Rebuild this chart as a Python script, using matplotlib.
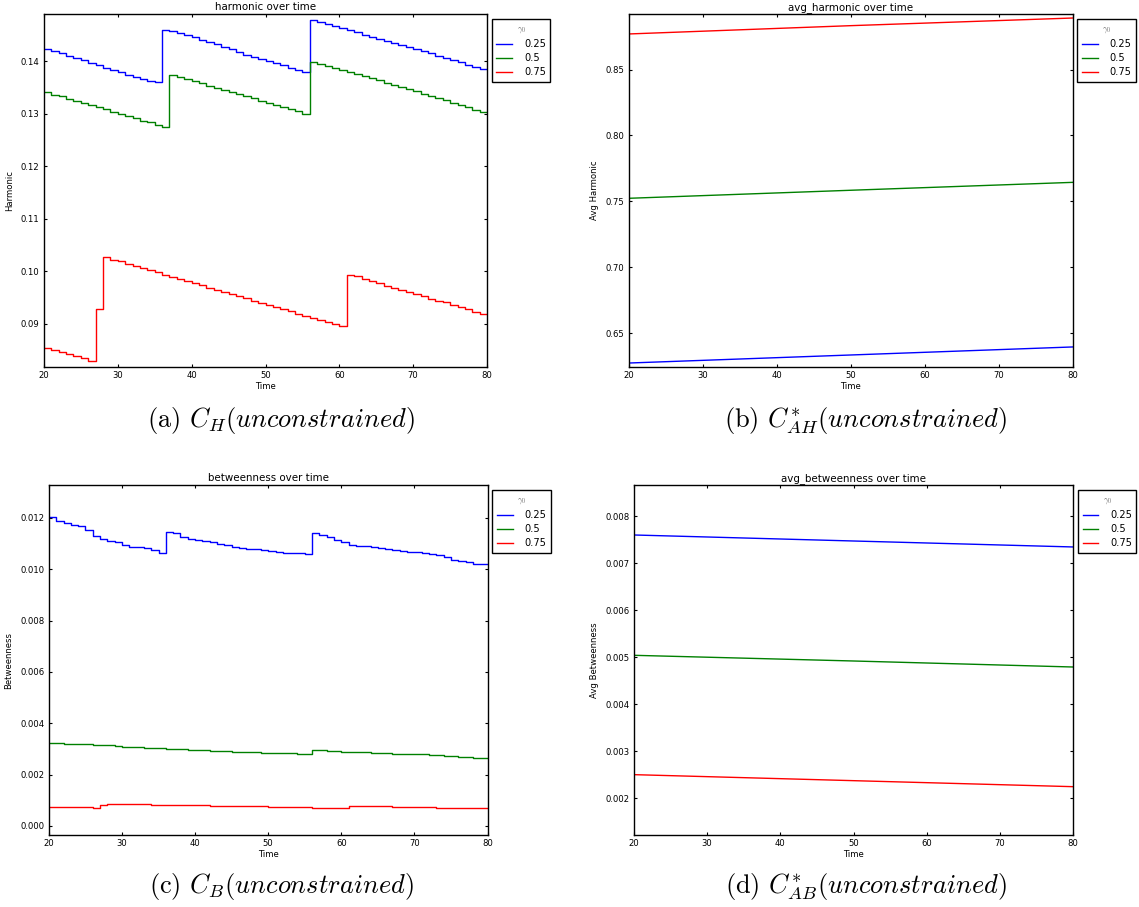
import matplotlib
matplotlib.use('Agg')
import matplotlib.pyplot as plt
from matplotlib.ticker import FormatStrFormatter, MultipleLocator

# ---------------- data ----------------
time = list(range(20, 81))
gamma_labels = ['0.25', '0.5', '0.75']
line_colors = ['#0000ff', '#008000', '#ff0000']

harmonic_025 = [0.14242, 0.14197, 0.14153, 0.14108, 0.14064, 0.14019, 0.13968, 0.13924,
                0.13879, 0.13841, 0.13790, 0.13745, 0.13701, 0.13656, 0.13624, 0.13599,
                0.14605, 0.14573, 0.14535, 0.14497, 0.14459, 0.14414, 0.14369, 0.14325,
                0.14280, 0.14236, 0.14185, 0.14127, 0.14083, 0.14045, 0.14006, 0.13962,
                0.13924, 0.13879, 0.13841, 0.13796,
                0.14790, 0.14758, 0.14720, 0.14675, 0.14637, 0.14592, 0.14554, 0.14510,
                0.14471, 0.14427, 0.14389, 0.14350, 0.14306, 0.14268, 0.14229, 0.14191,
                0.14153, 0.14108, 0.14070, 0.14025, 0.13981, 0.13936, 0.13892, 0.13854,
                0.13850]
harmonic_05 = [0.13414, 0.13369, 0.13338, 0.13293, 0.13255, 0.13217, 0.13172, 0.13127,
               0.13089, 0.13045, 0.13006, 0.12962, 0.12917, 0.12873, 0.12841, 0.12796,
               0.12752,
               0.13745, 0.13707, 0.13662, 0.13624, 0.13586, 0.13541, 0.13503, 0.13459,
               0.13420, 0.13382, 0.13338, 0.13299, 0.13255, 0.13217, 0.13178, 0.13134,
               0.13096, 0.13051, 0.13006,
               0.13994, 0.13955, 0.13911, 0.13873, 0.13834, 0.13796, 0.13752, 0.13713,
               0.13675, 0.13637, 0.13592, 0.13548, 0.13510, 0.13471, 0.13433, 0.13389,
               0.13350, 0.13306, 0.13261, 0.13210, 0.13166, 0.13127, 0.13083, 0.13045,
               0.13045]
harmonic_075 = [0.08547, 0.08509, 0.08459, 0.08421, 0.08384, 0.08340, 0.08296, 0.09277,
                0.10270, 0.10226, 0.10189, 0.10145, 0.10107, 0.10063, 0.10019, 0.09981,
                0.09937, 0.09899, 0.09855, 0.09818, 0.09774, 0.09736, 0.09692, 0.09648,
                0.09610, 0.09566, 0.09528, 0.09484, 0.09440, 0.09403, 0.09358, 0.09321,
                0.09277, 0.09239, 0.09195, 0.09157, 0.09113, 0.09075, 0.09038, 0.08994,
                0.08956,
                0.09937, 0.09906, 0.09855, 0.09811, 0.09774, 0.09730, 0.09692, 0.09654,
                0.09610, 0.09572, 0.09522, 0.09478, 0.09440, 0.09409, 0.09365, 0.09321,
                0.09277, 0.09233, 0.09189, 0.09189]

avg_time = [20, 50, 80]
avg_harmonic_025 = [0.6272, 0.6333, 0.6394]
avg_harmonic_05 = [0.7523, 0.7584, 0.7644]
avg_harmonic_075 = [0.8771, 0.8834, 0.8892]

betweenness_025 = [0.012025, 0.011899, 0.011810, 0.011709, 0.011696, 0.011532, 0.011316,
                   0.011165, 0.011114, 0.011051, 0.010962, 0.010886, 0.010861, 0.010835,
                   0.010759, 0.010633,
                   0.011443, 0.011405, 0.011266, 0.011177, 0.011152, 0.011089, 0.011063,
                   0.010987, 0.010937, 0.010861, 0.010823, 0.010797, 0.010772, 0.010759,
                   0.010722, 0.010671, 0.010646, 0.010646, 0.010620, 0.010595,
                   0.011405, 0.011329, 0.011278, 0.011152, 0.011076, 0.010937, 0.010924,
                   0.010899, 0.010861, 0.010835, 0.010810, 0.010759, 0.010722, 0.010684,
                   0.010671, 0.010633, 0.010595, 0.010570, 0.010494, 0.010367, 0.010330,
                   0.010290, 0.010200, 0.010190, 0.010190]
betweenness_05 = [0.00324, 0.00322, 0.00320, 0.00319, 0.00319, 0.00318, 0.00317, 0.00316,
                  0.00315, 0.00312, 0.00309, 0.00308, 0.00306, 0.00305, 0.00304, 0.00302,
                  0.00301, 0.00300, 0.00299, 0.00297, 0.00296, 0.00295, 0.00294, 0.00293,
                  0.00291, 0.00289, 0.00288, 0.00288, 0.00287, 0.00286, 0.00285, 0.00284,
                  0.00284, 0.00283, 0.00282, 0.00280,
                  0.00296, 0.00295, 0.00294, 0.00292, 0.00290, 0.00289, 0.00288, 0.00287,
                  0.00286, 0.00285, 0.00284, 0.00282, 0.00281, 0.00280, 0.00279, 0.00279,
                  0.00277, 0.00275, 0.00273, 0.00271, 0.00270, 0.00268, 0.00266, 0.00264,
                  0.00264]
betweenness_075 = [0.00075, 0.00075, 0.00074, 0.00074, 0.00073, 0.00073, 0.00072, 0.00080,
                   0.00086, 0.00086, 0.00085, 0.00085, 0.00084, 0.00084, 0.00083, 0.00083,
                   0.00082, 0.00082, 0.00081, 0.00081, 0.00080, 0.00080, 0.00079, 0.00079,
                   0.00078, 0.00078, 0.00077, 0.00077, 0.00076, 0.00076, 0.00075, 0.00075,
                   0.00074, 0.00074, 0.00073, 0.00073, 0.00072, 0.00072, 0.00071, 0.00071,
                   0.00070,
                   0.00078, 0.00078, 0.00077, 0.00077, 0.00076, 0.00076, 0.00075, 0.00075,
                   0.00074, 0.00074, 0.00073, 0.00073, 0.00072, 0.00072, 0.00071, 0.00071,
                   0.00070, 0.00070, 0.00069, 0.00069]

avg_betweenness_025 = [0.007603, 0.007475, 0.007348]
avg_betweenness_05 = [0.005043, 0.004922, 0.004794]
avg_betweenness_075 = [0.002504, 0.002376, 0.002248]

captions = [r'(a) $C_H(unconstrained)$', r'(b) $C^{*}_{AH}(unconstrained)$',
            r'(c) $C_B(unconstrained)$', r'(d) $C^{*}_{AB}(unconstrained)$']

# ---------------- figure ----------------
plt.rcParams['font.family'] = ['DejaVu Sans']
plt.rcParams['mathtext.fontset'] = 'cm'

W, H = 1139, 907
fig = plt.figure(figsize=(W / 100, H / 100), dpi=100, facecolor='white')


def px_axes(left, top, right, bottom):
    return fig.add_axes([left / W, 1 - bottom / H, (right - left) / W, (bottom - top) / H])


def style(ax, title, ylabel, ylim, ymajor, yfmt):
    ax.set_xlim(20, 80)
    ax.set_ylim(*ylim)
    ax.xaxis.set_major_locator(MultipleLocator(10))
    ax.yaxis.set_major_locator(MultipleLocator(ymajor))
    ax.yaxis.set_major_formatter(FormatStrFormatter(yfmt))
    ax.tick_params(direction='in', top=True, right=True, length=2.5, width=0.8,
                   labelsize=6.1, pad=3)
    for s in ax.spines.values():
        s.set_linewidth(1.0)
        s.set_color('black')
    ax.set_title(title, fontsize=7.4, pad=3)
    ax.set_xlabel('Time', fontsize=6.1, labelpad=1)
    ax.set_ylabel(ylabel, fontsize=6.1, labelpad=5)
    leg = ax.legend(loc='upper left', bbox_to_anchor=(1.0, 1.0), borderaxespad=0.5,
                    fontsize=7.1, title=r'$\gamma_0$', title_fontsize=6,
                    fancybox=False, framealpha=1, edgecolor='black',
                    handlelength=1.6, handletextpad=1.2, labelspacing=0.42,
                    borderpad=0.45)
    leg.get_frame().set_linewidth(1.0)
    leg.get_title().set_color('0.4')


def step_panel(ax, series):
    for vals, lab, c in zip(series, gamma_labels, line_colors):
        ax.plot(time, vals, drawstyle='steps-post', color=c, lw=1.0, label=lab)


def line_panel(ax, series):
    for vals, lab, c in zip(series, gamma_labels, line_colors):
        ax.plot(avg_time, vals, color=c, lw=1.0, label=lab)


ax_a = px_axes(43.9, 14.3, 487.1, 367.0)
step_panel(ax_a, [harmonic_025, harmonic_05, harmonic_075])
style(ax_a, 'harmonic over time', 'Harmonic', (0.08178, 0.14898), 0.01, '%.2f')

ax_b = px_axes(628.9, 14.3, 1072.5, 367.0)
line_panel(ax_b, [avg_harmonic_025, avg_harmonic_05, avg_harmonic_075])
style(ax_b, 'avg_harmonic over time', 'Avg Harmonic', (0.62418, 0.89203), 0.05, '%.2f')

ax_c = px_axes(48.9, 485.3, 487.5, 835.0)
step_panel(ax_c, [betweenness_025, betweenness_05, betweenness_075])
style(ax_c, 'betweenness over time', 'Betweenness', (-0.000351, 0.013273), 0.002, '%.3f')

ax_d = px_axes(633.9, 485.3, 1073.2, 835.0)
line_panel(ax_d, [avg_betweenness_025, avg_betweenness_05, avg_betweenness_075])
style(ax_d, 'avg_betweenness over time', 'Avg Betweenness', (0.00122, 0.00866), 0.001, '%.3f')

cap_pos = [(281, 421), (866, 421), (281, 886), (866, 886)]
for (cx, cy), txt in zip(cap_pos, captions):
    fig.text(cx / W, 1 - cy / H, txt, ha='center', va='center', fontsize=19,
             family='cmr10')

fig.savefig('out.png', dpi=100, facecolor='white')
